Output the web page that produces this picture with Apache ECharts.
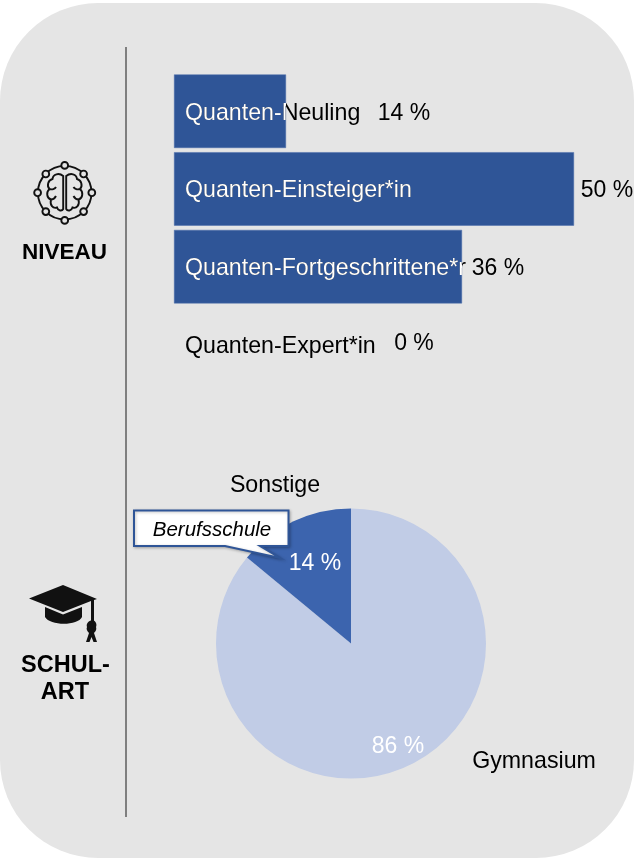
<!DOCTYPE html>
<html><head><meta charset="utf-8">
<style>html,body{margin:0;padding:0;background:#fff}#c{width:640px;height:858px}</style>
<script src="https://cdn.jsdelivr.net/npm/echarts@6/dist/echarts.min.js"></script>
</head><body><div id="c"></div>
<script>
const levelNames = ['Quanten-Neuling','Quanten-Einsteiger*in','Quanten-Fortgeschrittene*r','Quanten-Expert*in'];
const levelValues = [14,50,36,0];
const schoolNames = ['Gymnasium','Sonstige'];
const schoolValues = [86,14];

const FONT = '"Liberation Sans", Arial, sans-serif';
const valueLabelPos = [[404,114],[607,191],[498,269],[414,344]];
const pieValuePos = [[398,747],[315,564]];
const pieNamePos = [[534,762],[275,486]];
const DARK = '#111';

echarts.graphic.registerShape('iconPath', echarts.graphic.extendShape({
  shape:{d:''},
  buildPath(ctx, shape){
    const t = shape.d.match(/[MLCZ]|-?[\d.]+/g); let i=0;
    while(i<t.length){
      const c=t[i++];
      if(c==='M'){ctx.moveTo(+t[i],+t[i+1]);i+=2;}
      else if(c==='L'){ctx.lineTo(+t[i],+t[i+1]);i+=2;}
      else if(c==='C'){ctx.bezierCurveTo(+t[i],+t[i+1],+t[i+2],+t[i+3],+t[i+4],+t[i+5]);i+=6;}
      else if(c==='Z'){ctx.closePath();}
    }
  }
}));

const nodes = [[64.7,165.4],[83.6,174],[91.8,192.7],[83.6,211.6],[64.7,220.4],[45.8,211.6],[37.6,192.7],[45.8,174]];
const brainNodes = nodes.map(n => ({type:'circle',z:6,shape:{cx:n[0],cy:n[1],r:3.4},style:{fill:'#e5e5e5',stroke:DARK,lineWidth:1.9}}));

const chart = echarts.init(document.getElementById('c'),null,{renderer:'canvas'});
chart.setOption({
  animation:false,
  grid:{left:174,top:72.4,width:400,height:310.8,containLabel:false},
  xAxis:{type:'value',min:0,max:50,show:false},
  yAxis:{type:'category',data:levelNames,inverse:true,show:false},
  graphic:[
    {type:'rect',z:-10,shape:{x:0,y:3,width:634,height:855,r:[98,98,98,98]},style:{fill:'#e5e5e5'}},
    {type:'line',z:1,shape:{x1:126,y1:47,x2:126,y2:817},style:{stroke:'#7f7f7f',lineWidth:2}},
    // brain icon
    {type:'circle',z:5,shape:{cx:64.7,cy:192.7,r:26.8},style:{fill:'none',stroke:DARK,lineWidth:1.9}},
    ...brainNodes,
    {type:'iconPath',z:6,shape:{d:'M63.2 176 C59 172.5 53 174 52.5 179 C48 180 46.5 186 49.5 189 C46 192 46.5 198 51 199.5 C49.5 205 53 209 57 207.5 C58 211 62 211.5 63.2 209 Z M66.2 176 C70.5 172.5 76.5 174 77 179 C81.5 180 83 186 80 189 C83.5 192 83 198 78.5 199.5 C80 205 76.5 209 72.5 207.5 C71.5 211 67.5 211.5 66.2 209 Z M49.5 189 C52 190 55 189 56 187 M51 199.5 C53 199.5 55 198 56 196 M80 189 C77.5 190 74.5 189 73.5 187 M78.5 199.5 C76.5 199.5 74.5 198 73.5 196'},style:{fill:'none',stroke:DARK,lineWidth:1.9}},
    {type:'text',z:6,style:{x:64.5,y:253,text:'NIVEAU',fill:'#000',font:'bold 22.5px '+FONT,align:'center',verticalAlign:'middle'}},
    // graduation cap icon
    {type:'iconPath',z:6,shape:{d:'M63 585 L29 598.5 L63 612 L91 601 L91 621 L94 621 L94 600 L97 599 Z'},style:{fill:DARK}},
    {type:'iconPath',z:6,shape:{d:'M45 607 L63 614.5 L82 607 L82 617 C78 626 50 626 45 617 Z'},style:{fill:DARK}},
    {type:'iconPath',z:6,shape:{d:'M92.5 620 C96.5 621 97 625 96 627 C97 630 95 632 94 633 L97 642 L93.5 642 L91.5 637 L89.5 642 L86 642 L89 633 C87 631 86 629 87 627 C86 624 88 621 92.5 620 Z'},style:{fill:DARK}},
    {type:'text',z:6,style:{x:65.5,y:665.5,text:'SCHUL-',fill:'#000',font:'bold 23.5px '+FONT,align:'center',verticalAlign:'middle'}},
    {type:'text',z:6,style:{x:65,y:692.5,text:'ART',fill:'#000',font:'bold 23.5px '+FONT,align:'center',verticalAlign:'middle'}},
    // callout
    {type:'iconPath',z:20,shape:{d:'M134 510.5 L288.5 510.5 L288.5 546 L260 546 L280 558 L225 546 L134 546 Z'},style:{fill:'#fff',stroke:'#2f5597',lineWidth:2,shadowBlur:3,shadowColor:'rgba(0,0,0,0.25)',shadowOffsetX:1,shadowOffsetY:1}},
    {type:'text',z:21,style:{x:212,y:530,text:'Berufsschule',fill:'#000',font:'italic 20.5px '+FONT,align:'center',verticalAlign:'middle'}}
  ],
  series:[
    {type:'bar',data:levelValues.map(v=>({value:v,itemStyle:{borderWidth:v?0.5:0}})),barWidth:'94.6%',z:2,
      itemStyle:{color:'#2f5597',borderColor:'#4a6cab'},
      label:{show:true,formatter:'{c} %',color:'#000',fontFamily:FONT,fontSize:23,position:'right'},
      labelLayout:p=>({x:valueLabelPos[p.dataIndex][0],y:valueLabelPos[p.dataIndex][1],align:'center',verticalAlign:'middle'})},
    {type:'custom',z:3,coordinateSystem:'cartesian2d',silent:true,
      data:levelValues.map((v,i)=>[v,i]),
      encode:{x:0,y:1},
      renderItem:(params,api)=>{
        const i=api.value(1), end=api.coord([api.value(0),i]), start=api.coord([0,i]), h=api.size([0,1])[1];
        const base={x:start[0]+11,y:start[1]+2,text:levelNames[i],font:'23.2px '+FONT,align:'left',verticalAlign:'middle'};
        return {type:'group',children:[
          {type:'text',style:Object.assign({},base,{fill:'#000'})},
          {type:'text',style:Object.assign({},base,{fill:'#fff'}),
            clipPath:{type:'rect',shape:{x:start[0],y:start[1]-h/2,width:Math.max(end[0]-start[0],0.01),height:h}}}
        ]};
      }},
    {type:'pie',center:[351,643.5],radius:[0,135],startAngle:90,z:2,silent:true,
      data:schoolNames.map((n,i)=>({name:n,value:schoolValues[i],itemStyle:{color:['#c1cce6','#3c64ae'][i]}})),
      label:{show:true,position:'inside',formatter:'{c} %',color:'#fff',fontFamily:FONT,fontSize:23},
      labelLine:{show:false},
      labelLayout:p=>({x:pieValuePos[p.dataIndex][0],y:pieValuePos[p.dataIndex][1],align:'center',verticalAlign:'middle'})},
    {type:'pie',center:[351,643.5],radius:[0,135],startAngle:90,z:1,silent:true,
      data:schoolNames.map((n,i)=>({name:n,value:schoolValues[i]})),
      itemStyle:{color:'transparent'},
      label:{show:true,position:'inside',formatter:'{b}',color:'#000',fontFamily:FONT,fontSize:23.2},
      labelLine:{show:false},
      labelLayout:p=>({x:pieNamePos[p.dataIndex][0],y:pieNamePos[p.dataIndex][1],align:'center',verticalAlign:'middle'})}
  ]
});
</script></body></html>
